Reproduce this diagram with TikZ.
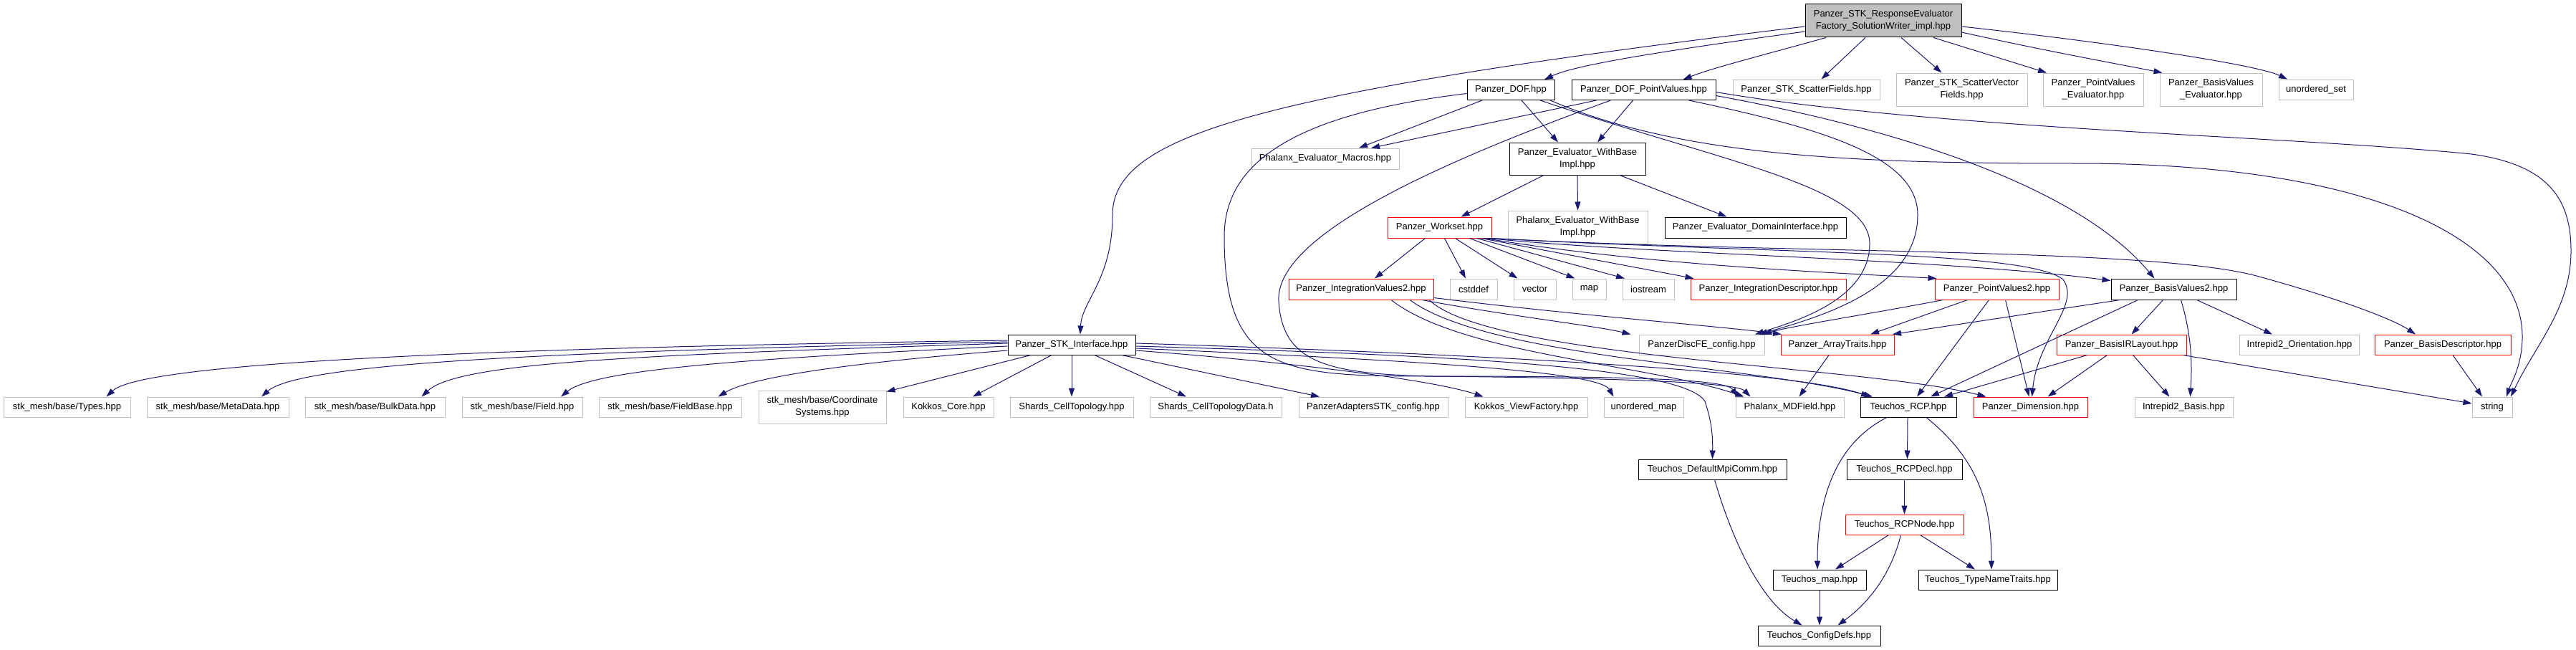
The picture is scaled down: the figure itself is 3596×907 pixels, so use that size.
\documentclass[tikz,border=0pt]{standalone}
\usepackage{fontspec}
\newfontfamily\gfont{Liberation Sans}
\usetikzlibrary{arrows.meta}
\definecolor{edgeblue}{HTML}{191970}
\definecolor{boxgrey}{HTML}{BFBFBF}
\definecolor{boxred}{HTML}{FF0000}
\definecolor{topfill}{HTML}{BFBFBF}
\newcommand{\gfs}{\gfont\fontsize{13}{17}\selectfont}
\tikzset{
  box/.style={draw, rectangle, inner sep=0pt, line width=1pt, fill=white, font=\gfs, align=center},
  blk/.style={box, draw=black},
  gry/.style={box, draw=boxgrey},
  redb/.style={box, draw=boxred},
  lnk/.style={draw=edgeblue, line width=1pt, -{Triangle[length=12pt,width=8pt]}},
}
\begin{document}
\begin{tikzpicture}[x=1pt,y=-1pt]
\fill[white] (0,0) rectangle (3596,907);
\useasboundingbox (0,0) rectangle (3596,907);
% row 0
\node[blk, fill=topfill, minimum width=218, minimum height=46] (T) at (2629,29) {Panzer\_STK\_ResponseEvaluator\\Factory\_SolutionWriter\_impl.hpp};
% row 1
\node[blk, minimum width=122, minimum height=28] (dof) at (2109,125.5) {Panzer\_DOF.hpp};
\node[blk, minimum width=201, minimum height=28] (dofpv) at (2294.5,125.5) {Panzer\_DOF\_PointValues.hpp};
\node[gry, minimum width=205, minimum height=28] (scf) at (2521.5,125) {Panzer\_STK\_ScatterFields.hpp};
\node[gry, minimum width=183, minimum height=46] (svf) at (2738.5,125) {Panzer\_STK\_ScatterVector\\Fields.hpp};
\node[gry, minimum width=140, minimum height=46] (pve) at (2922,125) {Panzer\_PointValues\\\_Evaluator.hpp};
\node[gry, minimum width=143, minimum height=46] (bve) at (3086.5,125) {Panzer\_BasisValues\\\_Evaluator.hpp};
\node[gry, minimum width=104, minimum height=28] (uset) at (3233,125) {unordered\_set};
% row 2
\node[gry, minimum width=206, minimum height=29] (macros) at (1850,221.5) {Phalanx\_Evaluator\_Macros.hpp};
\node[blk, minimum width=190, minimum height=45] (ewb) at (2202,221.5) {Panzer\_Evaluator\_WithBase\\Impl.hpp};
% row 3
\node[redb, minimum width=145, minimum height=29] (ws) at (2009.5,317.5) {Panzer\_Workset.hpp};
\node[gry, minimum width=195, minimum height=46] (pewb) at (2202.5,317) {Phalanx\_Evaluator\_WithBase\\Impl.hpp};
\node[blk, minimum width=253, minimum height=29] (edi) at (2450.5,317.5) {Panzer\_Evaluator\_DomainInterface.hpp};
% row 4
\node[redb, minimum width=202, minimum height=29] (iv2) at (1900,403.5) {Panzer\_IntegrationValues2.hpp};
\node[gry, minimum width=66, minimum height=29] (cstddef) at (2057,403.5) {cstddef};
\node[gry, minimum width=59, minimum height=29] (vector) at (2142.5,403.5) {vector};
\node[gry, minimum width=47, minimum height=29] (map) at (2218.5,403.5) {map};
\node[gry, minimum width=72, minimum height=29] (iostream) at (2301,403.5) {iostream};
\node[redb, minimum width=217, minimum height=29] (idesc) at (2468.5,403.5) {Panzer\_IntegrationDescriptor.hpp};
\node[redb, minimum width=173, minimum height=29] (pv2) at (2787.5,403.5) {Panzer\_PointValues2.hpp};
\node[blk, minimum width=175, minimum height=29] (bv2) at (3034.5,403.5) {Panzer\_BasisValues2.hpp};
% row 5
\node[blk, minimum width=178, minimum height=28] (stk) at (1496,481) {Panzer\_STK\_Interface.hpp};
\node[gry, minimum width=175, minimum height=28] (discfe) at (2375.5,481) {PanzerDiscFE\_config.hpp};
\node[redb, minimum width=158, minimum height=28] (at) at (2565,481) {Panzer\_ArrayTraits.hpp};
\node[redb, minimum width=181, minimum height=28] (birl) at (2961.5,481) {Panzer\_BasisIRLayout.hpp};
\node[gry, minimum width=167, minimum height=28] (ori) at (3210,481) {Intrepid2\_Orientation.hpp};
\node[redb, minimum width=190, minimum height=28] (bdesc) at (3410,481) {Panzer\_BasisDescriptor.hpp};
% row 6
\node[gry, minimum width=177, minimum height=28] (types) at (93.5,568) {stk\_mesh/base/Types.hpp};
\node[gry, minimum width=198, minimum height=28] (meta) at (304,568) {stk\_mesh/base/MetaData.hpp};
\node[gry, minimum width=195, minimum height=28] (bulk) at (523.5,568) {stk\_mesh/base/BulkData.hpp};
\node[gry, minimum width=168, minimum height=28] (field) at (729,568) {stk\_mesh/base/Field.hpp};
\node[gry, minimum width=199, minimum height=28] (fbase) at (935.5,568) {stk\_mesh/base/FieldBase.hpp};
\node[gry, minimum width=178, minimum height=46] (coord) at (1148,568) {stk\_mesh/base/Coordinate\\Systems.hpp};
\node[gry, minimum width=126, minimum height=28] (kcore) at (1324,568) {Kokkos\_Core.hpp};
\node[gry, minimum width=172, minimum height=28] (sct) at (1496,568) {Shards\_CellTopology.hpp};
\node[gry, minimum width=184, minimum height=28] (sctd) at (1697,568) {Shards\_CellTopologyData.h};
\node[gry, minimum width=208, minimum height=28] (pastk) at (1917,568) {PanzerAdaptersSTK\_config.hpp};
\node[gry, minimum width=171, minimum height=28] (kvf) at (2130.5,568) {Kokkos\_ViewFactory.hpp};
\node[gry, minimum width=111, minimum height=28] (umap) at (2294.5,568) {unordered\_map};
\node[gry, minimum width=151, minimum height=28] (mdf) at (2498.5,568) {Phalanx\_MDField.hpp};
\node[blk, minimum width=134, minimum height=28] (rcp) at (2664,568) {Teuchos\_RCP.hpp};
\node[redb, minimum width=159, minimum height=28] (dim) at (2834.5,568) {Panzer\_Dimension.hpp};
\node[gry, minimum width=137, minimum height=28] (ibasis) at (3048.5,568) {Intrepid2\_Basis.hpp};
\node[gry, minimum width=56, minimum height=28] (string) at (3479,568) {string};
% rows 7-10
\node[blk, minimum width=207, minimum height=28] (mpi) at (2390.5,655) {Teuchos\_DefaultMpiComm.hpp};
\node[blk, minimum width=161, minimum height=28] (rcpdecl) at (2658.5,655) {Teuchos\_RCPDecl.hpp};
\node[redb, minimum width=165, minimum height=28] (rcpnode) at (2658.5,732) {Teuchos\_RCPNode.hpp};
\node[blk, minimum width=130, minimum height=28] (tmap) at (2540,809) {Teuchos\_map.hpp};
\node[blk, minimum width=194, minimum height=28] (tnt) at (2775,809) {Teuchos\_TypeNameTraits.hpp};
\node[blk, minimum width=171, minimum height=28] (cdefs) at (2539.5,887) {Teuchos\_ConfigDefs.hpp};

% ---- edges from top node
\draw[lnk] ([yshift=-8]T.west) .. controls (1750,130) and (1553,190) .. (1553,300) .. controls (1553,390) and (1510,420) .. ([xshift=12]stk.north);
\draw[lnk] ([yshift=-15]T.west) .. controls (2330,70) and (2200,90) .. ([xshift=47]dof.north);
\draw[lnk] ([xshift=-80]T.south) .. controls (2450,80) and (2390,95) .. ([xshift=55]dofpv.north);
\draw[lnk] ([xshift=-25]T.south) -- ([xshift=21]scf.north);
\draw[lnk] ([xshift=25]T.south) -- ([xshift=-28]svf.north);
\draw[lnk] ([xshift=70]T.south) -- ([xshift=-65]pve.north);
\draw[lnk] ([yshift=-16]T.east) .. controls (2850,70) and (2960,90) .. ([xshift=-68]bve.north);
\draw[lnk] ([yshift=-8]T.east) .. controls (2950,60) and (3150,90) .. ([xshift=-40]uset.north);

% ---- Panzer_DOF
\draw[lnk] ([xshift=-40]dof.south) -- ([xshift=47]macros.north);
\draw[lnk] ([xshift=15]dof.south) -- ([xshift=-27]ewb.north);
\draw[lnk] ([yshift=-5]dof.west) .. controls (1800,160) and (1709,230) .. (1709,330) .. controls (1709,520) and (1790,525) .. (2000,525) .. controls (2300,525) and (2410,530) .. ([xshift=-73]mdf.north);
\draw[lnk] ([xshift=41]dof.south) .. controls (2400,225) and (2610,260) .. (2610,340) .. controls (2610,420) and (2500,450) .. ([xshift=74.5]discfe.north);
\draw[lnk] ([xshift=55]dof.south) .. controls (2350,220) and (2600,228) .. (2900,228) .. controls (3300,228) and (3521,330) .. (3521,470) .. controls (3521,510) and (3505,535) .. ([xshift=20]string.north);

% ---- Panzer_DOF_PointValues
\draw[lnk] ([xshift=-66]dofpv.south) -- ([xshift=64]macros.north);
\draw[lnk] ([xshift=-15]dofpv.south) -- ([xshift=28]ewb.north);
\draw[lnk] ([xshift=-46]dofpv.south) .. controls (2000,230) and (1780,330) .. (1785,420) .. controls (1790,505) and (1850,522) .. (2000,525) .. controls (2300,528) and (2425,535) .. ([xshift=-55]mdf.north);
\draw[lnk] ([xshift=63]dofpv.south) .. controls (2550,180) and (2677,220) .. (2677,300) .. controls (2677,400) and (2550,440) .. ([xshift=79.5]discfe.north);
\draw[lnk] ([yshift=-8]dofpv.east) .. controls (2650,180) and (2900,260) .. ([xshift=-27]bv2.north);
\draw[lnk] ([yshift=-3]dofpv.east) .. controls (2700,180) and (3200,190) .. (3450,215) .. controls (3560,230) and (3589,280) .. (3589,350) .. controls (3589,430) and (3540,480) .. ([xshift=26]string.north);

% ---- Evaluator_WithBaseImpl
\draw[lnk] ([xshift=-47]ewb.south) -- ([xshift=30]ws.north);
\draw[lnk] (ewb.south) -- (pewb.north);
\draw[lnk] ([xshift=59]ewb.south) -- ([xshift=-40]edi.north);

% ---- Workset
\draw[lnk] ([xshift=-20]ws.south) -- ([xshift=19]iv2.north);
\draw[lnk] ([xshift=7]ws.south) -- ([xshift=-11]cstddef.north);
\draw[lnk] ([xshift=22]ws.south) -- ([xshift=-24]vector.north);
\draw[lnk] ([xshift=42]ws.south) -- ([xshift=-20]map.north);
\draw[lnk] ([xshift=52]ws.south) -- ([xshift=-33]iostream.north);
\draw[lnk] ([xshift=58]ws.south) -- ([xshift=-104]idesc.north);
\draw[lnk] ([xshift=63]ws.south) .. controls (2300,370) and (2550,380) .. ([xshift=-84]pv2.north);
\draw[lnk] ([xshift=68]ws.south) .. controls (2300,355) and (2700,360) .. ([yshift=12]bv2.west);
\draw[lnk] ([xshift=72]ws.south) .. controls (2500,355) and (3000,345) .. (3150,385) .. controls (3260,415) and (3340,445) .. ([xshift=-38]bdesc.north);
\draw[lnk] ([xshift=70]ws.south) .. controls (2500,355) and (2830,350) .. (2880,390) .. controls (2905,425) and (2845,470) .. ([xshift=2]dim.north);

% ---- IntegrationValues2
\draw[lnk] ([xshift=85]iv2.south) .. controls (2100,440) and (2230,455) .. ([xshift=-99]discfe.north);
\draw[lnk] ([yshift=-12]iv2.east) .. controls (2200,440) and (2400,455) .. ([xshift=-78]at.north);
\draw[lnk] ([xshift=42]iv2.south) .. controls (2040,495) and (2300,508) .. ([xshift=-64]mdf.north);
\draw[lnk] ([xshift=68]iv2.south) .. controls (2080,500) and (2450,510) .. ([xshift=-50]rcp.north);
\draw[lnk] ([xshift=95]iv2.south) .. controls (2080,500) and (2600,510) .. ([xshift=-62]dim.north);

% ---- Panzer_STK_Interface
\draw[lnk] ([yshift=6]stk.west) .. controls (700,485) and (200,505) .. ([xshift=55]types.north);
\draw[lnk] ([yshift=4]stk.west) .. controls (800,490) and (420,505) .. ([xshift=61]meta.north);
\draw[lnk] ([yshift=2]stk.west) .. controls (900,495) and (640,505) .. ([xshift=65]bulk.north);
\draw[lnk] ([yshift=-2]stk.west) .. controls (1050,500) and (830,515) .. ([xshift=54]field.north);
\draw[lnk] ([yshift=-8]stk.west) .. controls (1200,505) and (1050,525) .. ([xshift=67]fbase.north);
\draw[lnk] ([xshift=-57]stk.south) -- ([yshift=-2]coord.north east);
\draw[lnk] ([xshift=-28]stk.south) -- ([xshift=34]kcore.north);
\draw[lnk] (stk.south) -- (sct.north);
\draw[lnk] ([xshift=32]stk.south) -- ([xshift=-41]sctd.north);
\draw[lnk] ([xshift=70]stk.south) -- ([xshift=-75]pastk.north);
\draw[lnk] ([yshift=-8]stk.east) .. controls (1800,505) and (2000,530) .. ([xshift=-60]kvf.north);
\draw[lnk] ([yshift=-5]stk.east) .. controls (1900,500) and (2230,515) .. ([xshift=-42]umap.north);
\draw[lnk] ([yshift=2]stk.east) .. controls (2000,492) and (2500,515) .. ([xshift=-54]rcp.north);
\draw[lnk] ([yshift=-2]stk.east) .. controls (2000,495) and (2350,510) .. (2380,560) .. controls (2390,590) and (2391,610) .. (mpi.north);

% ---- PointValues2
\draw[lnk] ([xshift=-75]pv2.south) .. controls (2600,440) and (2500,455) .. ([xshift=85.5]discfe.north);
\draw[lnk] ([xshift=-41]pv2.south) -- ([xshift=46]at.north);
\draw[lnk] ([xshift=-11]pv2.south) -- ([xshift=12]rcp.north);
\draw[lnk] ([xshift=12]pv2.south) -- ([xshift=-2]dim.north);

% ---- BasisValues2
\draw[lnk] ([xshift=-75]bv2.south) -- ([xshift=77]at.north);
\draw[lnk] ([xshift=-50]bv2.south) -- ([xshift=31]rcp.north);
\draw[lnk] ([xshift=-15]bv2.south) -- ([xshift=14]birl.north);
\draw[lnk] ([xshift=10]bv2.south) .. controls (3060,470) and (3060,510) .. ([xshift=9]ibasis.north);
\draw[lnk] ([xshift=32]bv2.south) -- ([xshift=-38]ori.north);

% ---- BasisIRLayout, BasisDescriptor, ArrayTraits
\draw[lnk] ([xshift=-48]birl.south) -- ([xshift=50]rcp.north);
\draw[lnk] ([xshift=-20]birl.south) -- ([xshift=24]dim.north);
\draw[lnk] ([xshift=16]birl.south) -- ([xshift=-20]ibasis.north);
\draw[lnk] ([xshift=86]birl.south) -- ([yshift=5]string.west);
\draw[lnk] ([xshift=14]bdesc.south) -- ([xshift=-14]string.north);
\draw[lnk] ([xshift=-12]at.south) -- ([xshift=13]mdf.north);

% ---- Teuchos
\draw[lnk] ([xshift=-1]rcp.south) -- ([xshift=4]rcpdecl.north);
\draw[lnk] ([xshift=-30]rcp.south) .. controls (2560,620) and (2537,700) .. ([xshift=-3]tmap.north);
\draw[lnk] ([xshift=25]rcp.south) .. controls (2760,640) and (2780,700) .. ([xshift=5]tnt.north);
\draw[lnk] (rcpdecl.south) -- (rcpnode.north);
\draw[lnk] ([xshift=-22]rcpnode.south) -- ([xshift=22]tmap.north);
\draw[lnk] ([xshift=-5]rcpnode.south) .. controls (2640,800) and (2610,840) .. ([xshift=26]cdefs.north);
\draw[lnk] ([xshift=22]rcpnode.south) -- ([xshift=-18]tnt.north);
\draw[lnk] (tmap.south) -- ([xshift=0.5]cdefs.north);
\draw[lnk] ([xshift=3]mpi.south) .. controls (2420,760) and (2460,840) .. ([xshift=-24]cdefs.north);
\end{tikzpicture}
\end{document}
